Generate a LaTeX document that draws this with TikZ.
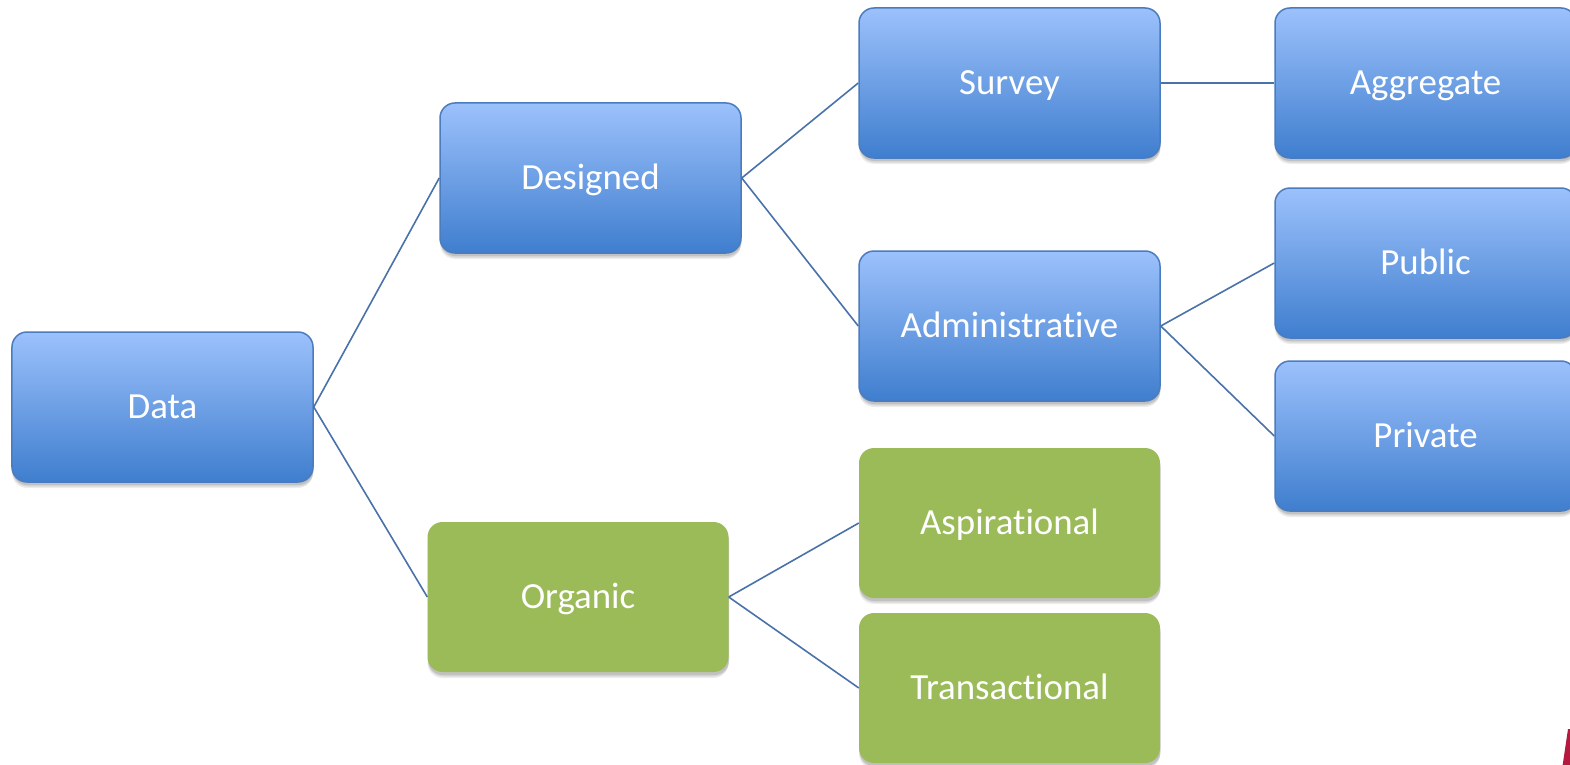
\documentclass[tikz,border=0pt]{standalone}
\usepackage{fontspec}
\setmainfont{Carlito}[RawFeature={-liga;-clig}]
\usetikzlibrary{shadows}
\definecolor{bluetop}{HTML}{9CC1FC}
\definecolor{bluemid}{HTML}{7FA9EC}
\definecolor{bluebot}{HTML}{3F7ECE}
\definecolor{blueedge}{HTML}{4A7CBE}
\definecolor{greenfill}{HTML}{9BBB59}
\definecolor{linkcol}{HTML}{4A72AA}
\definecolor{redmark}{HTML}{B5193F}
\tikzset{
  basebox/.style={rounded corners=15bp, minimum width=301bp, minimum height=150bp,
    inner sep=0pt, text=white, font=\fontsize{37}{44}\selectfont,
    text height=23bp, text depth=0bp,
    drop shadow={shadow xshift=0bp, shadow yshift=-6bp, opacity=0.07, fill=black},
    drop shadow={shadow xshift=0.5bp, shadow yshift=-4.5bp, opacity=0.09, fill=black},
    drop shadow={shadow xshift=0.5bp, shadow yshift=-3bp, opacity=0.10, fill=black}},
  bluebox/.style={basebox, draw=blueedge, line width=1.5bp,
    top color=bluetop, middle color=bluemid, bottom color=bluebot},
  greenbox/.style={basebox, fill=greenfill},
  link/.style={draw=linkcol, line width=1.6bp}
}
\begin{document}
\begin{tikzpicture}[x=1bp,y=-1bp]
\useasboundingbox (0,0) rectangle (1570,765);
\clip (0,0) rectangle (1570,765);
\fill[white] (0,0) rectangle (1570,765);
\node[bluebox] (data) at (162.5,407) {Data};
\node[bluebox] (designed) at (590.5,178) {Designed};
\node[greenbox] (organic) at (578,597) {Organic};
\node[bluebox] (survey) at (1009.5,83) {Survey};
\node[bluebox] (admin) at (1009.5,326) {Administrative};
\node[greenbox] (aspir) at (1009.5,523) {Aspirational};
\node[greenbox] (trans) at (1009.5,688) {Transactional};
\node[bluebox] (aggr) at (1425.5,83) {Aggregate};
\node[bluebox] (public) at (1425.5,263) {Public};
\node[bluebox] (private) at (1425.5,436) {Private};
\draw[link] (data.east) -- (designed.west);
\draw[link] (data.east) -- (organic.west);
\draw[link] (designed.east) -- (survey.west);
\draw[link] (designed.east) -- (admin.west);
\draw[link] (survey.east) -- (aggr.west);
\draw[link] (admin.east) -- (public.west);
\draw[link] (admin.east) -- (private.west);
\draw[link] (organic.east) -- (aspir.west);
\draw[link] (organic.east) -- (trans.west);
\fill[redmark] (1568,729) -- (1571,729) -- (1571,766) -- (1562.5,766) -- cycle;
\end{tikzpicture}
\end{document}
